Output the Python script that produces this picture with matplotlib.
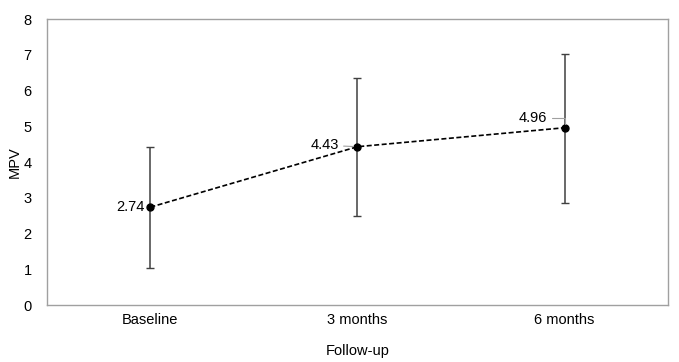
import matplotlib.pyplot as plt

plt.rcParams['font.family'] = ['Liberation Sans', 'DejaVu Sans']

# data
labels = ['Baseline', '3 months', '6 months']
means = [2.74, 4.43, 4.96]
err_low = [1.70, 1.93, 2.10]
err_high = [1.68, 1.93, 2.07]

fig = plt.figure(figsize=(6.79, 3.62), dpi=100)
ax = fig.add_axes([0.069, 0.157, 0.915, 0.7905])

x = range(len(labels))
ax.errorbar(x, means, yerr=[err_low, err_high], fmt='none', ecolor='#404040',
            elinewidth=1.1, capsize=3, capthick=1)
ax.plot(x, means, linestyle='--', color='black', linewidth=1.2,
        marker='o', markersize=5, dashes=(3, 1.5))

# value labels
ax.annotate('2.74', (0, means[0]), xytext=(-4, 0), textcoords='offset points',
            ha='right', va='center', fontsize=10.5)
ax.annotate('4.43', (1, means[1]), xytext=(-13, 1), textcoords='offset points',
            ha='right', va='center', fontsize=10.5,
            arrowprops=dict(arrowstyle='-', color='#a0a0a0', lw=0.8,
                            shrinkA=1, shrinkB=3))
ax.annotate('4.96', (2, means[2]), xytext=(-13, 7), textcoords='offset points',
            ha='right', va='center', fontsize=10.5,
            arrowprops=dict(arrowstyle='-', color='#a0a0a0', lw=0.8,
                            connectionstyle='angle,angleA=0,angleB=90',
                            shrinkA=2, shrinkB=3))

ax.set_xlim(-0.5, 2.5)
ax.set_ylim(0, 8)
ax.set_xticks(list(x))
ax.set_xticklabels(labels, fontsize=10.5)
ax.set_yticks(range(0, 9))
ax.tick_params(axis='x', length=0, labelsize=10.5, pad=6)
ax.tick_params(axis='y', length=0, labelsize=10.5, pad=11)
for s in ax.spines.values():
    s.set_color('#a0a0a0')
    s.set_linewidth(1)

ax.set_xlabel('Follow-up', fontsize=10.5, labelpad=12)
ax.set_ylabel('MPV', fontsize=10.5, labelpad=1)

fig.savefig('out.png', dpi=100)
